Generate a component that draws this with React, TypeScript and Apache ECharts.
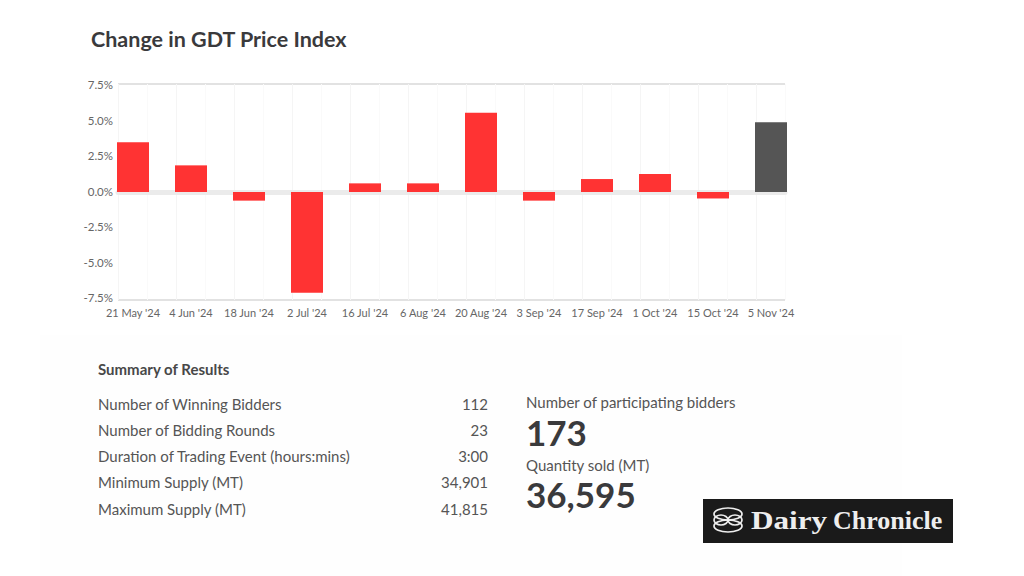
import React, { useEffect, useRef } from "react";
import * as echarts from "echarts";

const categories = ["21 May '24", "4 Jun '24", "18 Jun '24", "2 Jul '24", "16 Jul '24", "6 Aug '24", "20 Aug '24", "3 Sep '24", "17 Sep '24", "1 Oct '24", "15 Oct '24", "5 Nov '24"];
const changes = [3.45, 1.85, -0.6, -7.0, 0.6, 0.6, 5.5, -0.6, 0.9, 1.25, -0.45, 4.85];
const summaryLabels = ["Number of Winning Bidders", "Number of Bidding Rounds", "Duration of Trading Event (hours:mins)", "Minimum Supply (MT)", "Maximum Supply (MT)"];
const summaryValues = ["112", "23", "3:00", "34,901", "41,815"];
const FONT = "Lato";

export default function App() {
  const ref = useRef<HTMLDivElement>(null);
  useEffect(() => {
    const chart = echarts.init(ref.current!, undefined, { renderer: "svg" });
    const rowY = [404, 430, 456, 482, 509];
    const knot = { fill: "none", stroke: "#eee", lineWidth: 1.7 };
    const graphic: any[] = [
      { type: "rect", z: -10, silent: true, shape: { x: 40, y: 335, width: 862, height: 241 }, style: { fill: "#fefefe" } },
      { type: "text", x: 91, y: 39, style: { text: "Change in GDT Price Index", font: `bold 21.5px ${FONT}`, fill: "#3a3a3c", textVerticalAlign: "middle" } },
      { type: "text", x: 98, y: 369, style: { text: "Summary of Results", font: `bold 15px ${FONT}`, fill: "#484848", textVerticalAlign: "middle" } },
      ...summaryLabels.map((t, i) => ({ type: "text", x: 98, y: rowY[i], style: { text: t, font: `15px ${FONT}`, fill: "#555", textVerticalAlign: "middle" } })),
      ...summaryValues.map((t, i) => ({ type: "text", x: 488, y: rowY[i], style: { text: t, font: `15px ${FONT}`, fill: "#555", textAlign: "right", textVerticalAlign: "middle" } })),
      { type: "text", x: 526, y: 402, style: { text: "Number of participating bidders", font: `15px ${FONT}`, fill: "#555", textVerticalAlign: "middle" } },
      { type: "text", x: 526, y: 432, style: { text: "173", font: `bold 35px ${FONT}`, fill: "#3a3a3c", textVerticalAlign: "middle" } },
      { type: "text", x: 526, y: 465, style: { text: "Quantity sold (MT)", font: `15px ${FONT}`, fill: "#555", textVerticalAlign: "middle" } },
      { type: "text", x: 526, y: 494, style: { text: "36,595", font: `bold 35px ${FONT}`, fill: "#3a3a3c", textVerticalAlign: "middle" } },
      { type: "rect", shape: { x: 703, y: 499, width: 250, height: 44 }, style: { fill: "#1a1a1a" } },
      { type: "ellipse", shape: { cx: 721, cy: 520, rx: 7, ry: 5 }, style: knot },
      { type: "ellipse", shape: { cx: 735, cy: 520, rx: 7, ry: 5 }, style: knot },
      { type: "ellipse", shape: { cx: 728, cy: 514, rx: 14, ry: 6 }, style: knot },
      { type: "ellipse", shape: { cx: 728, cy: 526, rx: 14, ry: 6 }, style: knot },
      { type: "text", x: 751, y: 520, scaleX: 1.2, style: { text: "Dairy", font: `bold 26px "Liberation Serif"`, fill: "#eee", textVerticalAlign: "middle" } },
      { type: "text", x: 833, y: 520, style: { text: "Chronicle", font: `bold 26px "Liberation Serif"`, fill: "#eee", textVerticalAlign: "middle" } },
    ];
    chart.setOption({
      animation: false,
      backgroundColor: "#ffffff",
      textStyle: { fontFamily: FONT },
      graphic,
      grid: [
        { left: 104, width: 696, top: 84, height: 216 },
        { left: 118, width: 667, top: 84, height: 216 },
        { left: 118, width: 667, top: 84.5, height: 213 },
      ],
      xAxis: [
        {
          type: "category", gridIndex: 0, data: categories,
          axisLine: { show: false }, axisTick: { show: false }, splitLine: { show: false },
          axisLabel: { interval: 0, color: "#666", fontSize: 11, margin: 7, fontFamily: FONT },
        },
        {
          type: "value", gridIndex: 1, min: 0, max: 23, interval: 1,
          axisLabel: { show: false }, axisTick: { show: false },
          axisLine: { show: true, onZero: true, lineStyle: { color: "#ebebeb", width: 5 } },
          splitLine: { show: true, lineStyle: { color: ["#f5f5f5", "#fafafa"], width: 1 } },
        },
        { type: "value", gridIndex: 2, min: 0, max: 1, show: false },
      ],
      yAxis: [
        { type: "value", gridIndex: 0, min: -7.5, max: 7.5, interval: 2.5, show: false, splitLine: { show: false } },
        {
          type: "value", gridIndex: 1, min: -7.5, max: 7.5, interval: 2.5,
          axisLine: { show: false }, axisTick: { show: false }, axisLabel: { show: false },
          splitLine: { show: true, lineStyle: { width: 2, color: ["#e2e2e2", "transparent", "transparent", "transparent", "transparent", "transparent", "#e2e2e2"] } },
        },
        {
          type: "value", gridIndex: 2, min: -7.5, max: 7.5, interval: 2.5,
          axisLine: { show: false }, axisTick: { show: false }, splitLine: { show: false },
          axisLabel: { color: "#666", fontSize: 11.5, margin: 5, fontFamily: FONT, formatter: (v: number) => `${v.toFixed(1)}%` },
        },
      ],
      series: [
        {
          type: "bar", xAxisIndex: 0, yAxisIndex: 0, barWidth: 32,
          data: changes.map((v, i) => ({ value: v, itemStyle: { color: i === changes.length - 1 ? "#555555" : "#ff3333" } })),
        },
      ],
    });
    return () => chart.dispose();
  }, []);
  return <div ref={ref} style={{ position: "absolute", left: 0, top: 0, width: 1024, height: 576 }} />;
}
